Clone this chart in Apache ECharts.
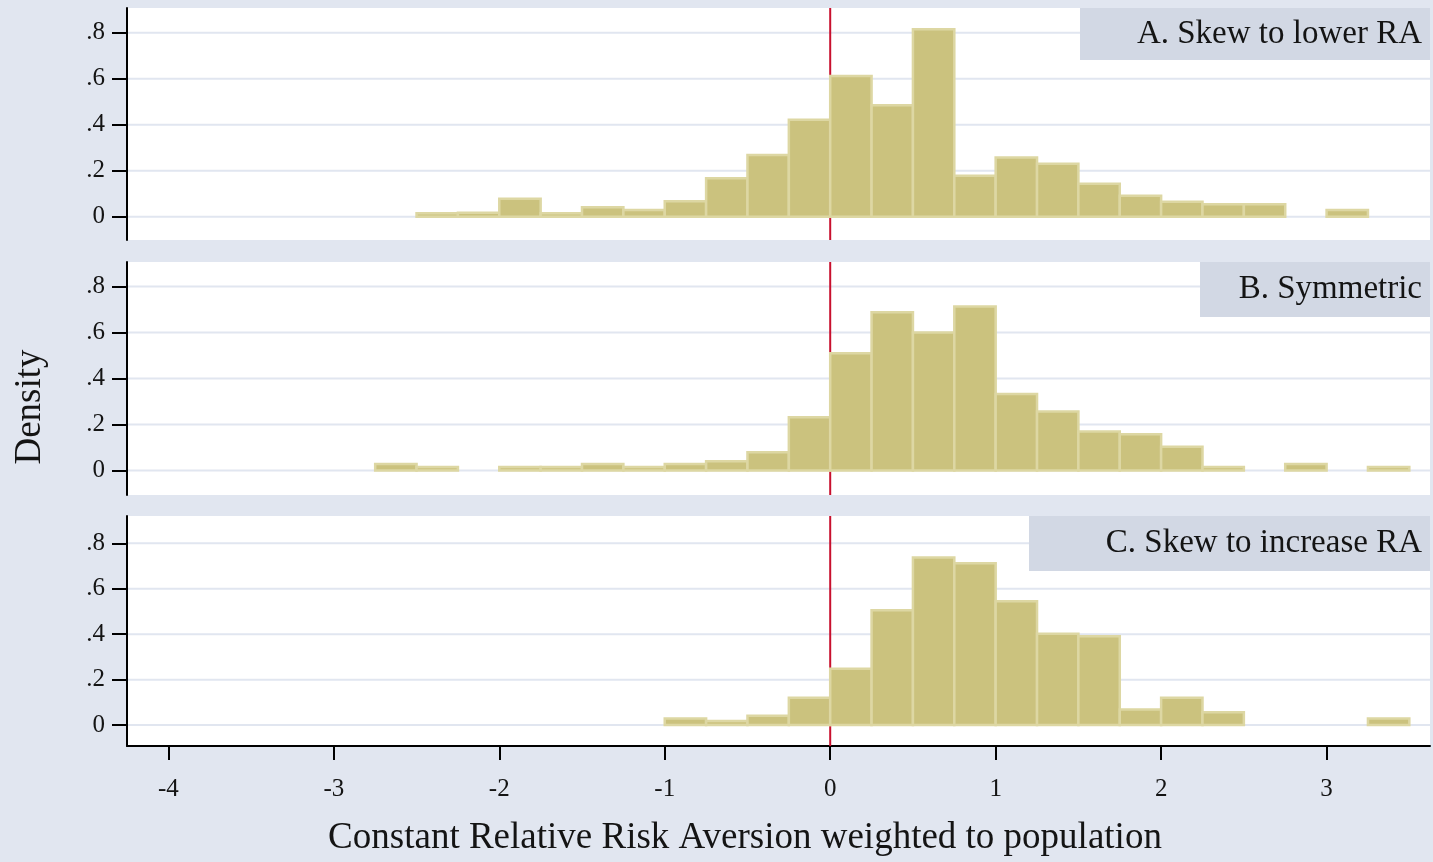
<!DOCTYPE html>
<html>
<head>
<meta charset="utf-8">
<title>Constant Relative Risk Aversion histograms</title>
<script src="https://cdn.jsdelivr.net/npm/echarts@6/dist/echarts.min.js"></script>
<style>
  html, body { margin: 0; padding: 0; background: #e1e6f0; }
  #chart { width: 1433px; height: 862px; }
</style>
</head>
<body>
<div id="chart"></div>
<script>
// Histogram bins (left edges) and densities, bin width 0.25
const BIN_WIDTH = 0.25;

const binStartA = [-2.5, -2.25, -2, -1.75, -1.5, -1.25, -1, -0.75, -0.5, -0.25, 0, 0.25, 0.5, 0.75, 1, 1.25, 1.5, 1.75, 2, 2.25, 2.5, 3];
const densityA  = [0.015, 0.017, 0.078, 0.015, 0.041, 0.029, 0.067, 0.167, 0.268, 0.422, 0.612, 0.484, 0.815, 0.178, 0.257, 0.230, 0.143, 0.091, 0.065, 0.054, 0.054, 0.029];

const binStartB = [-2.75, -2.5, -2, -1.75, -1.5, -1.25, -1, -0.75, -0.5, -0.25, 0, 0.25, 0.5, 0.75, 1, 1.25, 1.5, 1.75, 2, 2.25, 2.75, 3.25];
const densityB  = [0.029, 0.016, 0.016, 0.016, 0.029, 0.016, 0.029, 0.041, 0.080, 0.232, 0.510, 0.689, 0.600, 0.713, 0.333, 0.257, 0.170, 0.158, 0.104, 0.016, 0.029, 0.016];

const binStartC = [-1, -0.75, -0.5, -0.25, 0, 0.25, 0.5, 0.75, 1, 1.25, 1.5, 1.75, 2, 2.25, 3.25];
const densityC  = [0.029, 0.018, 0.041, 0.120, 0.248, 0.505, 0.737, 0.712, 0.545, 0.402, 0.391, 0.069, 0.120, 0.056, 0.029];

const panelTags = ['A. Skew to lower RA', 'B. Symmetric', 'C. Skew to increase RA'];

const yTicks = [0, 0.2, 0.4, 0.6, 0.8];
const yTickLabels = ['0', '.2', '.4', '.6', '.8'];
const xTicks = [-4, -3, -2, -1, 0, 1, 2, 3];
const xTickLabels = ['-4', '-3', '-2', '-1', '0', '1', '2', '3'];
const referenceX = 0;

const xAxisTitle = 'Constant Relative Risk Aversion weighted to population';
const yAxisTitle = 'Density';

// Styling
const FONT = '"Liberation Serif", "DejaVu Serif", serif';
const BG = '#e1e6f0';
const GRIDLINE = '#e1e6f0';
const TAG_BG = '#d2d8e4';
const BAR_FILL = '#cbc27e';
const BAR_EDGE = '#ddd7a3';
const REF_LINE = '#c8102e';
const INK = '#141414';

const X_MIN = -4.25, X_MAX = 3.625;

// Panel layout (pixels) and y ranges
const panels = [
  { top: 8,   height: 232, yMin: -0.101, yMax: 0.907, bins: binStartA, dens: densityA, tag: { x: 1080, y: 8,   w: 350, h: 52 } },
  { top: 262, height: 233, yMin: -0.106, yMax: 0.907, bins: binStartB, dens: densityB, tag: { x: 1200, y: 262, w: 230, h: 55 } },
  { top: 516, height: 230, yMin: -0.092, yMax: 0.920, bins: binStartC, dens: densityC, tag: { x: 1029, y: 516, w: 401, h: 55 } }
];

const chart = echarts.init(document.getElementById('chart'), null, { renderer: 'canvas' });

const grids = [], xAxes = [], yAxes = [], series = [], graphics = [];

panels.forEach((p, i) => {
  const isBottom = i === panels.length - 1;
  grids.push({ left: 127, right: 3, top: p.top, height: p.height, backgroundColor: '#ffffff', show: true, borderWidth: 0, containLabel: false });

  xAxes.push({
    gridIndex: i, type: 'value', min: X_MIN, max: X_MAX,
    show: true,
    axisLine: { show: isBottom, onZero: false, lineStyle: { color: '#000', width: 2 } },
    axisTick: { show: isBottom, customValues: xTicks, length: 14, lineStyle: { color: '#000', width: 2 } },
    axisLabel: {
      show: isBottom, customValues: xTicks, margin: 31,
      formatter: v => xTickLabels[xTicks.indexOf(v)],
      fontFamily: FONT, fontSize: 25, color: INK
    },
    splitLine: { show: false }
  });

  yAxes.push({
    gridIndex: i, type: 'value', min: p.yMin, max: p.yMax,
    axisLine: { show: true, onZero: false, lineStyle: { color: '#000', width: 2 } },
    axisTick: { show: true, customValues: yTicks, length: 15, lineStyle: { color: '#000', width: 2 } },
    axisLabel: {
      show: true, customValues: yTicks, margin: 22,
      formatter: v => yTickLabels[yTicks.indexOf(v)],
      fontFamily: FONT, fontSize: 25, color: INK
    },
    splitLine: { show: false }
  });

  // horizontal grid lines at the y ticks
  series.push({
    type: 'custom', xAxisIndex: i, yAxisIndex: i, silent: true, z: 1,
    data: yTicks.map(v => [v]),
    encode: { y: 0 },
    renderItem: (params, api) => {
      const v = api.value(0);
      const a = api.coord([X_MIN, v]), b = api.coord([X_MAX, v]);
      return { type: 'line', shape: { x1: a[0] + 1, y1: a[1], x2: b[0], y2: b[1] }, style: { stroke: GRIDLINE, lineWidth: 2 } };
    }
  });

  // vertical reference line at zero
  series.push({
    type: 'custom', xAxisIndex: i, yAxisIndex: i, silent: true, z: 2,
    data: [[referenceX]],
    encode: { x: 0 },
    renderItem: (params, api) => {
      const v = api.value(0);
      const a = api.coord([v, p.yMin]), b = api.coord([v, p.yMax]);
      return { type: 'line', shape: { x1: a[0], y1: a[1], x2: b[0], y2: b[1] }, style: { stroke: REF_LINE, lineWidth: 2 } };
    }
  });

  // histogram bars
  series.push({
    type: 'custom', xAxisIndex: i, yAxisIndex: i, z: 3,
    data: p.bins.map((b, k) => [b, p.dens[k]]),
    encode: { x: 0, y: 1 },
    renderItem: (params, api) => {
      const x0 = api.value(0), h = api.value(1);
      const p0 = api.coord([x0, 0]), p1 = api.coord([x0 + BIN_WIDTH, h]);
      return {
        type: 'rect',
        shape: { x: p0[0], y: p1[1], width: p1[0] - p0[0], height: p0[1] - p1[1] },
        style: { fill: BAR_FILL, stroke: BAR_EDGE, lineWidth: 2.5 }
      };
    }
  });

  // panel tag box
  graphics.push({
    type: 'rect', z: 10,
    shape: { x: p.tag.x, y: p.tag.y, width: p.tag.w, height: p.tag.h },
    style: { fill: TAG_BG }
  });
  graphics.push({
    type: 'text', z: 11,
    x: p.tag.x + p.tag.w - 8, y: p.tag.y + p.tag.h / 2,
    style: { text: panelTags[i], fill: INK, font: '33px ' + FONT, align: 'right', verticalAlign: 'middle' }
  });
});

// axis titles
graphics.push({
  type: 'text', z: 11, x: 30, y: 407, rotation: Math.PI / 2,
  style: { text: yAxisTitle, fill: INK, font: '37px ' + FONT, align: 'center', verticalAlign: 'middle' }
});
graphics.push({
  type: 'text', z: 11, x: 745, y: 838,
  style: { text: xAxisTitle, fill: INK, font: '37px ' + FONT, align: 'center', verticalAlign: 'middle' }
});

chart.setOption({
  backgroundColor: BG,
  animation: false,
  grid: grids,
  xAxis: xAxes,
  yAxis: yAxes,
  series: series,
  graphic: graphics
});
</script>
</body>
</html>
